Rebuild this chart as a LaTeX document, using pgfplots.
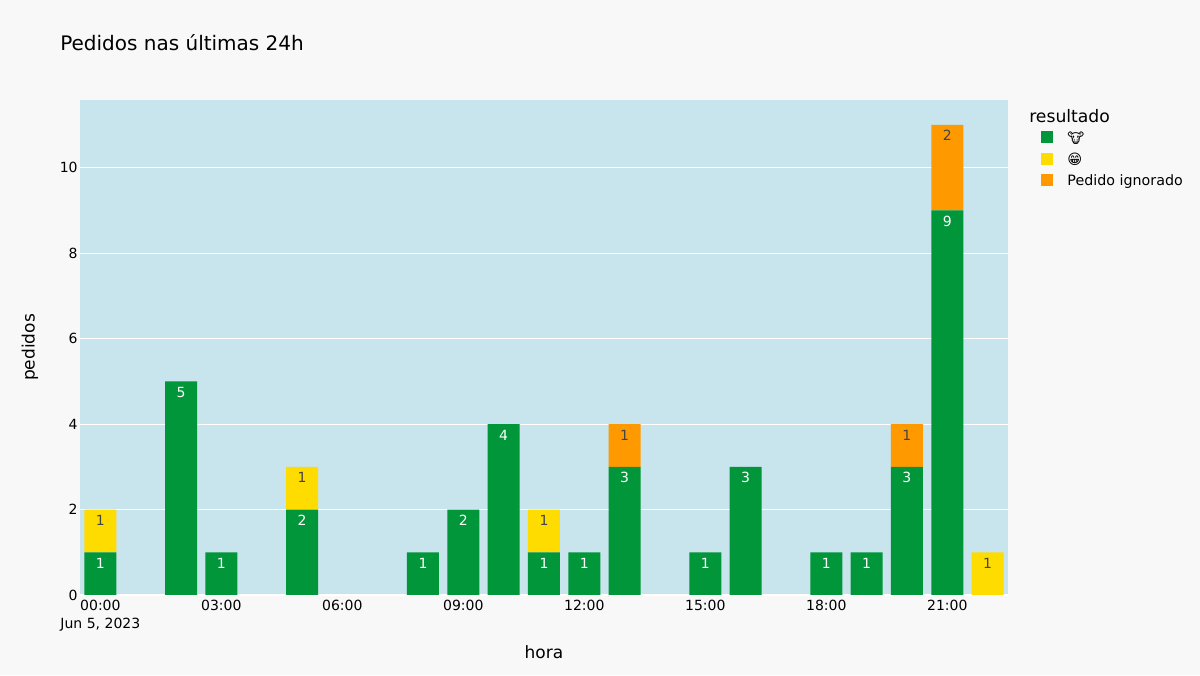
\documentclass[border=0pt]{standalone}
\usepackage{pgfplots}
\usepackage{pgfplotstable}
\usepackage{fontspec}
\pgfplotsset{compat=1.18}
\setmainfont{DejaVu Sans}
\definecolor{pagebg}{HTML}{F8F8F8}
\definecolor{plotbg}{HTML}{C8E4EC}
\definecolor{cgreen}{HTML}{009639}
\definecolor{cyellow}{HTML}{FFDC00}
\definecolor{corange}{HTML}{FF9900}
\definecolor{txt}{HTML}{444444}
\pgfplotstableread{
h  g y o
0  1 1 0
1  0 0 0
2  5 0 0
3  1 0 0
4  0 0 0
5  2 1 0
6  0 0 0
7  0 0 0
8  1 0 0
9  2 0 0
10 4 0 0
11 1 1 0
12 1 0 0
13 3 0 1
14 0 0 0
15 1 0 0
16 3 0 0
17 0 0 0
18 1 0 0
19 1 0 0
20 3 0 1
21 9 0 2
22 0 1 0
}\orders
\begin{document}
\begin{tikzpicture}[x=0.75pt,y=0.75pt]
\path[use as bounding box,fill=pagebg] (0,0) rectangle (1200,675);
\node[anchor=west,inner sep=0pt,font=\fontsize{15pt}{18pt}\selectfont] at (60,632) {Pedidos nas últimas 24h};
\node[anchor=west,inner sep=0pt,font=\fontsize{12.9pt}{15pt}\selectfont] at (1029,559) {resultado};
\begin{axis}[
  at={(60pt,60pt)},anchor=south west,
  width=696pt,height=371.25pt,scale only axis,
  /pgf/number format/assume math mode=true,
  axis background/.style={fill=plotbg},
  axis line style={draw=none},
  major tick length=0pt,
  ybar stacked,bar width=24pt,
  xmin=-0.505,xmax=22.506,ymin=0,ymax=11.58,
  xtick={0,3,...,21},
  xticklabels={{00:00\\Jun 5, 2023},03:00,06:00,09:00,12:00,15:00,18:00,21:00},
  xticklabel style={align=center,font=\fontsize{10.5pt}{13.5pt}\selectfont,yshift=0pt},
  ytick={0,2,...,10},
  yticklabel style={font=\fontsize{10.5pt}{12pt}\selectfont,xshift=1.75pt},
  ymajorgrids,
  grid style={draw=white,line width=0.75pt},
  xlabel={hora},ylabel={pedidos},
  every axis x label/.style={at={(axis description cs:0.5,-0.115)},anchor=center,font=\fontsize{12.75pt}{14pt}\selectfont},
  every axis y label/.style={at={(axis description cs:-0.0539,0.5)},rotate=90,anchor=center,font=\fontsize{12.75pt}{14pt}\selectfont},
  nodes near coords={\pgfmathfloatifflags{\pgfplotspointmeta}{0}{}{\pgfmathprintnumber{\pgfplotspointmeta}}},
  nodes near coords style={anchor=center,yshift={\v*16.03pt-8.25pt},font=\fontsize{10.5pt}{12pt}\selectfont},
  point meta=explicit,
  legend style={at={(axis description cs:1.035,0.9375)},anchor=north west,draw=none,fill=none,
    font=\fontsize{10.7pt}{12pt}\selectfont,row sep=4pt,inner sep=0pt,
    nodes={text height=9pt,text depth=3pt,inner xsep=5pt,inner ysep=0pt}},
  legend cell align=left,
  legend image code/.code={\fill[#1] (0pt,-3pt) rectangle (9pt,6pt);\path (15pt,0pt);},
]
\addplot[fill=cgreen,draw=none,visualization depends on={\thisrow{g} \as \v},nodes near coords style={text=white}] table[x=h,y=g,meta=g] {\orders};
\addplot[fill=cyellow,draw=none,visualization depends on={\thisrow{y} \as \v},nodes near coords style={text=txt}] table[x=h,y=y,meta=y] {\orders};
\addplot[fill=corange,draw=none,visualization depends on={\thisrow{o} \as \v},nodes near coords style={text=txt}] table[x=h,y=o,meta=o] {\orders};
\addlegendentry{🐮}
\addlegendentry{😁}
\addlegendentry{Pedido ignorado}
\end{axis}
\end{tikzpicture}
\end{document}
